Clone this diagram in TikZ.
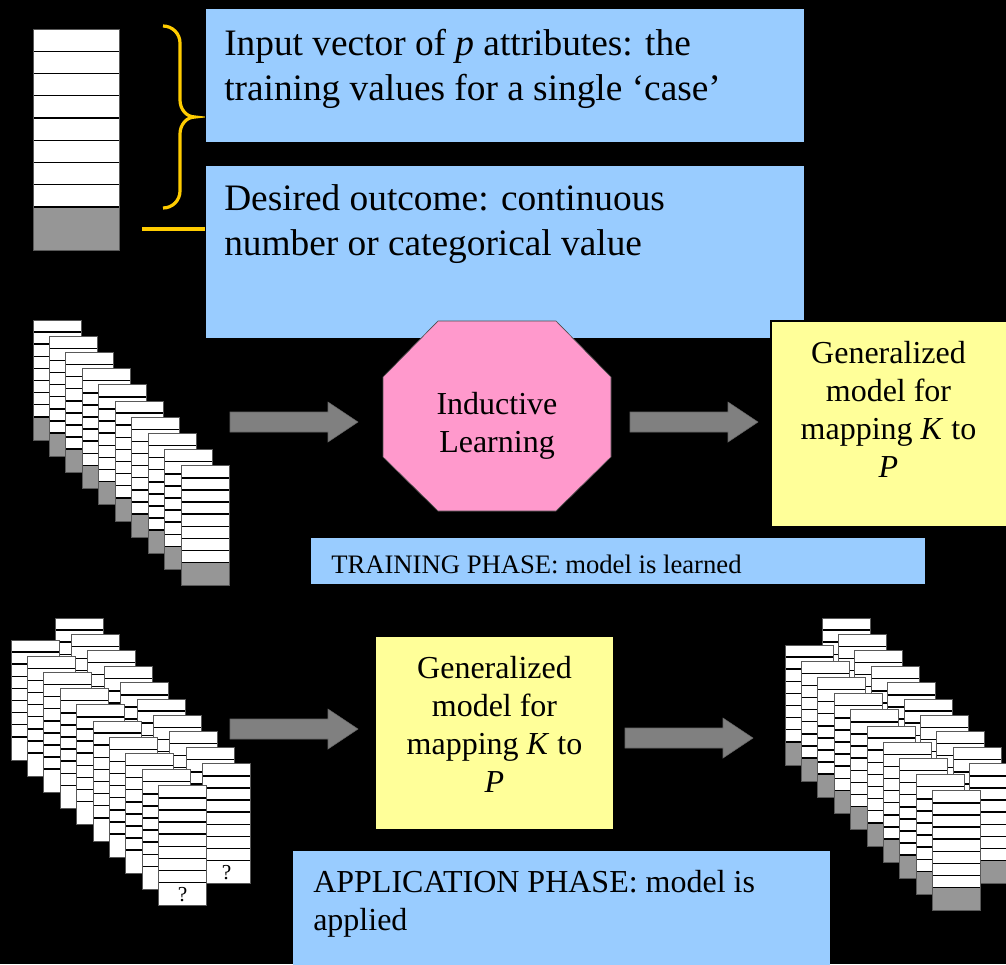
\documentclass[tikz,border=0pt]{standalone}
\usepackage{fontspec}
\setmainfont{Liberation Serif}
\usetikzlibrary{calc}
\definecolor{boxblue}{RGB}{153,204,255}
\definecolor{boxyellow}{RGB}{255,255,153}
\definecolor{octpink}{RGB}{255,153,204}
\definecolor{bracegold}{RGB}{255,204,0}
\definecolor{cellgray}{RGB}{150,150,150}
\definecolor{arrowgray}{RGB}{128,128,128}
\tikzset{
    bluebox/.style={fill=boxblue, draw=black, line width=0.5pt},
    yellowbox/.style={fill=boxyellow, draw=black, line width=0.8pt},
    rowline/.style={black, line width=1.1pt},
    cardedge/.style={draw=black!65, line width=0.6pt},
    % texts (placed by the baseline of their last line)
    bigtext/.style={font=\fontsize{28}{33.75}\selectfont, align=left, anchor=base west, inner sep=0pt},
    midtext/.style={font=\fontsize{24}{28.5}\selectfont, align=center, anchor=base, inner sep=0pt},
    labeltext/.style={font=\fontsize{24}{28.5}\selectfont, align=left, anchor=base west, inner sep=0pt},
    smalltext/.style={font=\fontsize{20}{24}\selectfont, anchor=base west, inner sep=0pt},
    goldline/.style={bracegold, line width=2.4pt},
    blockarrow/.style={fill=arrowgray, draw=black!60, line width=0.4pt}
}
% one case: x, y of the top left corner, fill of the outcome cell
\newcommand{\casecard}[3]{%
    \fill[white] (#1,#2) rectangle ++(48,120);
    \fill[#3] (#1,#2+97) rectangle ++(48,23);
    \foreach \r in {1,...,8}
        \draw[rowline] (#1,#2+\r*12.1) -- ++(48,0);
    \draw[cardedge] (#1,#2) rectangle ++(48,120);
}
% grey block arrow with its tail at x, y
\newcommand{\flowarrow}[2]{%
    \draw[blockarrow] (#1,#2-10) -- ++(98,0) -- ++(0,-10) -- (#1+128,#2)
        -- (#1+98,#2+20) -- ++(0,-10) -- (#1,#2+10) -- cycle;
}

\begin{document}
\begin{tikzpicture}[x=0.75pt,y=-0.75pt]
    \useasboundingbox (0,0) rectangle (1006,964);
    \clip (0,0) rectangle (1006,964);
    \fill[black] (0,0) rectangle (1006,964);

    % ===================== single case vector =====================
    \fill[white] (33,29) rectangle (119,207);
    \fill[cellgray] (33,207) rectangle (119,250);
    \foreach \r in {1,...,8}
        \draw[rowline] (33,29+\r*22.25) -- (119,29+\r*22.25);
    \draw[cardedge] (33,29) rectangle (119,250);

    \path
    (163,26) coordinate (braceTop)
    (195,117) coordinate (braceTip)
    (163,208) coordinate (braceBot)
    (142,229) coordinate (outStart)
    (205,229) coordinate (outEnd);

    \draw[goldline] (braceTop) to[out=0,in=90] (180,43) -- (180,100)
        to[out=-90,in=180] (braceTip) to[out=180,in=90] (180,134)
        -- (180,191) to[out=-90,in=0] (braceBot);
    \draw[goldline] (outStart) -- (outEnd);

    \draw[bluebox] (205,8) rectangle (804,142);
    \draw[bluebox] (205,165) rectangle (804,338);
    \node[bigtext] (inputtext) at (224,100)
        {Input vector of \textit{p} attributes: the\\training values for a single ‘case’};
    \node[bigtext] (outcometext) at (224,255)
        {Desired outcome: continuous\\number or categorical value};

    % ===================== training phase =====================
    \foreach \k in {0,...,9} {
        \pgfmathsetmacro\cx{33+16.44*\k}
        \pgfmathsetmacro\cy{320+16.2*\k}
        \casecard{\cx}{\cy}{cellgray}
    }
    \flowarrow{230}{422}

    \draw[fill=octpink, draw=black!70, line width=0.5pt]
        (438,321) -- (556,321) -- (611,377) -- (611,457)
        -- (556,511) -- (438,511) -- (383,457) -- (383,377) -- cycle;
    \node[midtext] (learn) at (497,452) {Inductive\\Learning};

    \flowarrow{630}{422}

    \draw[yellowbox] (771,321) rectangle (1010,527);
    \node[midtext] (trainmodel) at (888.5,477)
        {Generalized\\model for\\mapping \textit{K} to\\\textit{P}};

    \fill[boxblue] (311,538) rectangle (925,584);
    \node[smalltext] (trainlabel) at (331,573) {TRAINING PHASE: model is learned};

    % ===================== application phase =====================
    \foreach \k in {0,...,9} {
        \pgfmathsetmacro\cx{55+16.4*\k}
        \pgfmathsetmacro\cy{618+16.2*\k}
        \casecard{\cx}{\cy}{white}
    }
    \foreach \k in {0,...,9} {
        \pgfmathsetmacro\cx{11+16.4*\k}
        \pgfmathsetmacro\cy{640+16.2*\k}
        \casecard{\cx}{\cy}{white}
    }
    \node[font=\fontsize{16}{16}\selectfont] (unknownA) at (182.6,894.3) {?};
    \node[font=\fontsize{16}{16}\selectfont] (unknownB) at (226.6,872.3) {?};

    \flowarrow{230}{729}

    \draw[yellowbox] (375,636) rectangle (614,830);
    \node[midtext] (appmodel) at (494.5,792)
        {Generalized\\model for\\mapping \textit{K} to\\\textit{P}};

    \flowarrow{625}{738}

    \foreach \k in {0,...,9} {
        \pgfmathsetmacro\cx{822+16.4*\k}
        \pgfmathsetmacro\cy{618+16.2*\k}
        \casecard{\cx}{\cy}{cellgray}
    }
    \foreach \k in {0,...,9} {
        \pgfmathsetmacro\cx{785+16.4*\k}
        \pgfmathsetmacro\cy{645+16.2*\k}
        \casecard{\cx}{\cy}{cellgray}
    }

    \fill[boxblue] (293,851) rectangle (830,970);
    \node[labeltext] (applabel) at (313,930) {APPLICATION PHASE: model is\\applied};
\end{tikzpicture}
\end{document}
